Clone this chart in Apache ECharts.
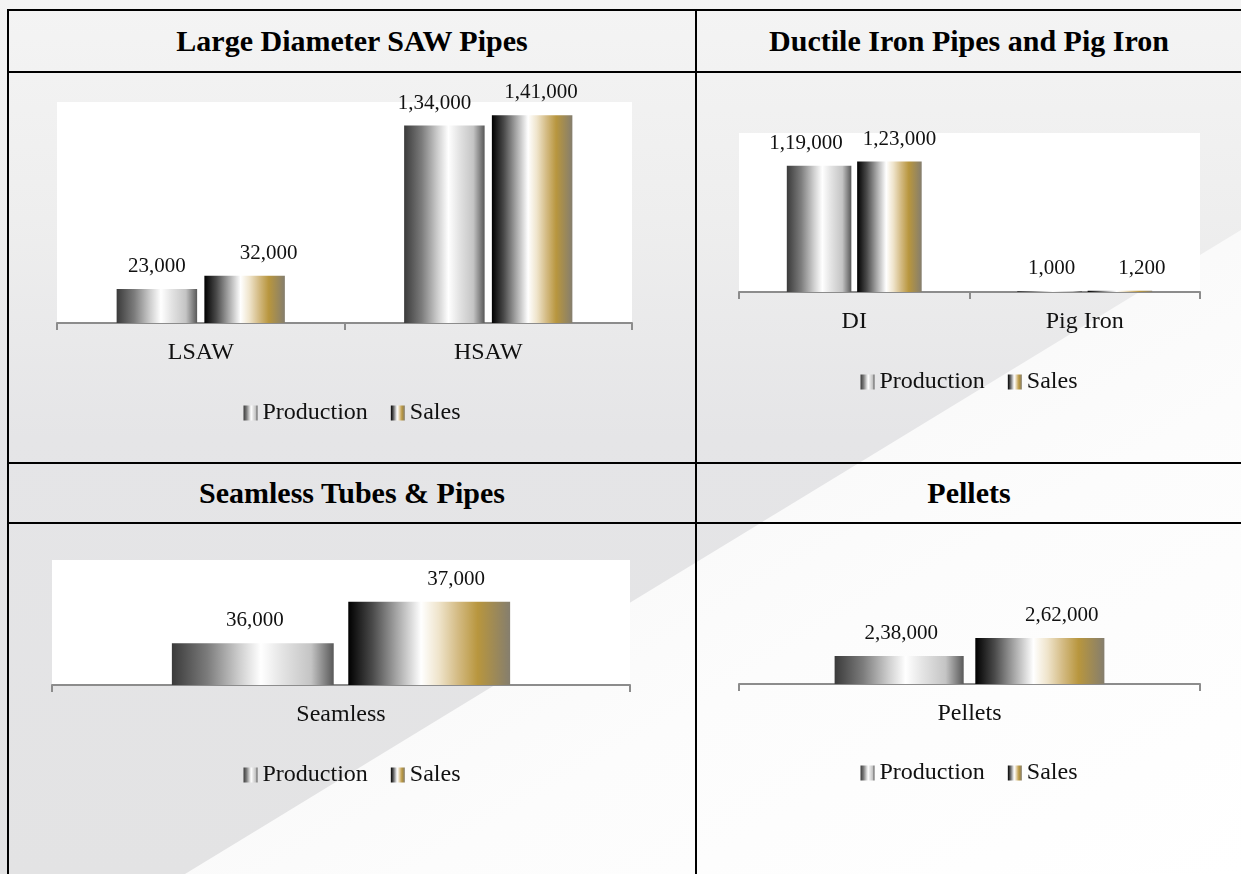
<!DOCTYPE html>
<html>
<head>
<meta charset="utf-8">
<title>Production and Sales</title>
<script src="https://cdn.jsdelivr.net/npm/echarts/dist/echarts.min.js"></script>
<style>
  html, body { margin: 0; padding: 0; }
  body {
    width: 1241px; height: 874px; position: relative; overflow: hidden;
    background: linear-gradient(180deg, #f4f4f4 0%, #eeeeee 25%, #e5e5e7 50%, #e3e3e4 100%);
    font-family: "Liberation Serif", "Times New Roman", serif;
  }
  .wedge {
    position: absolute; left: 0; top: 0; width: 1241px; height: 874px;
    background: linear-gradient(150deg, #f6f6f6 40%, #fcfcfc 70%, #ffffff 100%);
    clip-path: polygon(1241px 230px, 1241px 874px, 185px 874px);
  }
  .hline { position: absolute; height: 2px; background: #000; }
  .vline { position: absolute; width: 2px; background: #000; }
  .title {
    position: absolute; text-align: center; font-weight: bold; font-size: 30px;
    color: #000; line-height: 60px; height: 60px;
  }
  .panel { position: absolute; }
</style>
</head>
<body>
<div class="wedge"></div>

<!-- table rules -->
<div class="hline" style="left:8px; top:9px; width:1233px;"></div>
<div class="hline" style="left:8px; top:71px; width:1233px;"></div>
<div class="hline" style="left:8px; top:462px; width:1233px;"></div>
<div class="hline" style="left:8px; top:522px; width:1233px;"></div>
<div class="vline" style="left:7px; top:9px; height:865px;"></div>
<div class="vline" style="left:695px; top:9px; height:865px;"></div>

<div class="title" id="t0" style="left:9px; top:11px; width:686px;"></div>
<div class="title" id="t1" style="left:697px; top:11px; width:544px;"></div>
<div class="title" id="t2" style="left:9px; top:463px; width:686px;"></div>
<div class="title" id="t3" style="left:697px; top:463px; width:544px;"></div>

<div class="panel" id="c0" style="left:9px; top:73px; width:686px; height:389px;"></div>
<div class="panel" id="c1" style="left:697px; top:73px; width:544px; height:389px;"></div>
<div class="panel" id="c2" style="left:9px; top:524px; width:686px; height:350px;"></div>
<div class="panel" id="c3" style="left:697px; top:524px; width:544px; height:350px;"></div>

<script>
// ---- data ----
const panelTitles = ['Large Diameter SAW Pipes', 'Ductile Iron Pipes and Pig Iron', 'Seamless Tubes & Pipes', 'Pellets'];
const seriesNames = ['Production', 'Sales'];

const sawCategories = ['LSAW', 'HSAW'];
const sawProduction = [23000, 134000];
const sawSales = [32000, 141000];

const diCategories = ['DI', 'Pig Iron'];
const diProduction = [119000, 1000];
const diSales = [123000, 1200];

const seamlessCategories = ['Seamless'];
const seamlessProduction = [36000];
const seamlessSales = [37000];

const pelletCategories = ['Pellets'];
const pelletProduction = [238000];
const pelletSales = [262000];

// ---- layout per panel (value axis range, plot box, label nudges) ----
const panels = [
  { cats: sawCategories, prod: sawProduction, sales: sawSales,
    yMin: 0, yMax: 150000, grid: { left: 48, top: 29, width: 575, height: 221 }, plotBg: true,
    legendTop: 323, prodShift: [0, -10], salesShift: [24, 9] },
  { cats: diCategories, prod: diProduction, sales: diSales,
    yMin: 0, yMax: 150000, grid: { left: 42, top: 60, width: 461, height: 159 }, plotBg: true,
    legendTop: 292, prodShift: [-13, 2], salesShift: [10, 22] },
  { cats: seamlessCategories, prod: seamlessProduction, sales: seamlessSales,
    yMin: 35000, yMax: 38000, grid: { left: 43, top: 36, width: 578, height: 125 }, plotBg: true,
    legendTop: 234, prodShift: [2], salesShift: [27] },
  { cats: pelletCategories, prod: pelletProduction, sales: pelletSales,
    yMin: 200000, yMax: 300000, grid: { left: 42, top: 86, width: 461, height: 74 }, plotBg: false,
    legendTop: 232, prodShift: [2], salesShift: [22] }
];

// Indian digit grouping: 1,34,000
function indianFormat(n) {
  const s = String(Math.round(n));
  if (s.length <= 3) return s;
  const last3 = s.slice(-3);
  const rest = s.slice(0, -3).replace(/\B(?=(\d{2})+(?!\d))/g, ',');
  return rest + ',' + last3;
}

// metallic bar fills
const productionFill = new echarts.graphic.LinearGradient(0, 0, 1, 0, [
  { offset: 0, color: '#3a3a3a' },
  { offset: 0.22, color: '#7c7c7c' },
  { offset: 0.42, color: '#cfcfcf' },
  { offset: 0.55, color: '#ffffff' },
  { offset: 0.68, color: '#e4e4e4' },
  { offset: 0.86, color: '#c4c4c4' },
  { offset: 1, color: '#585858' }
]);
const salesFill = new echarts.graphic.LinearGradient(0, 0, 1, 0, [
  { offset: 0, color: '#000000' },
  { offset: 0.15, color: '#4a4a4a' },
  { offset: 0.3, color: '#a6a6a6' },
  { offset: 0.45, color: '#ffffff' },
  { offset: 0.56, color: '#efe4cb' },
  { offset: 0.68, color: '#d3ba82' },
  { offset: 0.8, color: '#b8963e' },
  { offset: 1, color: '#857e6e' }
]);

const FONT = '"Liberation Serif", "Times New Roman", serif';
const TEXT = '#111';

panels.forEach((p, i) => {
  document.getElementById('t' + i).textContent = panelTitles[i];

  const makeData = (vals, shifts) => vals.map((v, k) => ({
    value: v,
    label: { offset: [shifts[k] || 0, 0] }
  }));

  const barCommon = {
    type: 'bar',
    barWidth: '28%',
    barGap: '9%',
    label: {
      show: true, position: 'top', distance: 12,
      fontFamily: FONT, fontSize: 21, color: TEXT,
      formatter: (d) => indianFormat(d.value)
    }
  };

  const chart = echarts.init(document.getElementById('c' + i), null, { renderer: 'canvas' });
  chart.setOption({
    backgroundColor: 'transparent',
    animation: false,
    textStyle: { fontFamily: FONT },
    grid: Object.assign({
      show: p.plotBg, backgroundColor: '#ffffff', borderWidth: 0, containLabel: false
    }, p.grid),
    legend: {
      data: seriesNames,
      left: 'center', top: p.legendTop,
      itemWidth: 14, itemHeight: 15, itemGap: 23,
      icon: 'rect',
      textStyle: { fontFamily: FONT, fontSize: 24, color: TEXT }
    },
    xAxis: {
      type: 'category',
      data: p.cats,
      boundaryGap: true,
      axisLine: { show: true, lineStyle: { color: '#8c8c8c', width: 2 } },
      axisTick: { show: true, length: 7, lineStyle: { color: '#8c8c8c', width: 2 } },
      axisLabel: { margin: 18, fontFamily: FONT, fontSize: 24, color: TEXT }
    },
    yAxis: {
      type: 'value', min: p.yMin, max: p.yMax, show: false,
      splitLine: { show: false }
    },
    series: [
      Object.assign({}, barCommon, {
        name: seriesNames[0],
        itemStyle: { color: productionFill },
        data: makeData(p.prod, p.prodShift)
      }),
      Object.assign({}, barCommon, {
        name: seriesNames[1],
        itemStyle: { color: salesFill },
        data: makeData(p.sales, p.salesShift)
      })
    ]
  });
});
</script>
</body>
</html>
